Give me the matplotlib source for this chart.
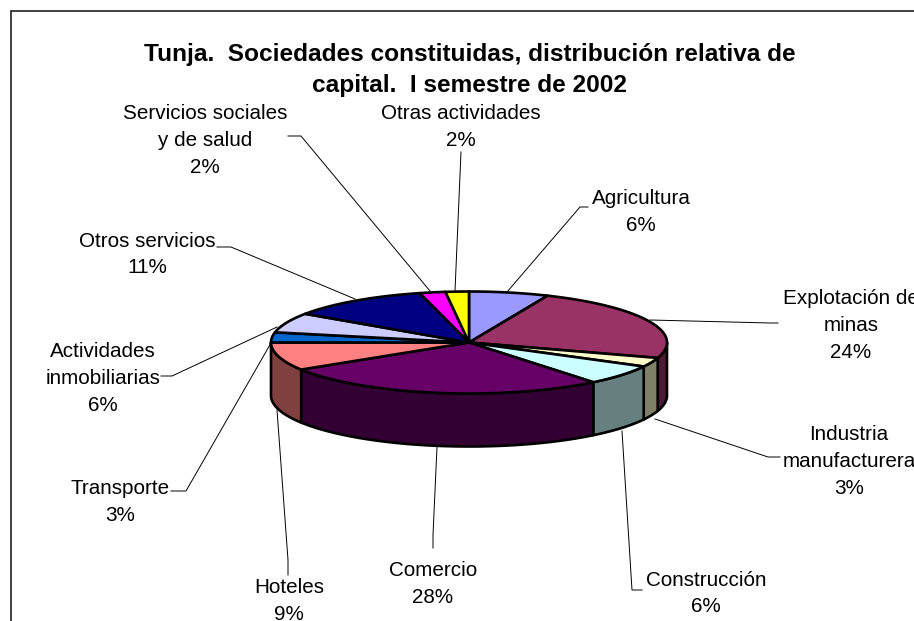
import numpy as np
import matplotlib
matplotlib.use('Agg')
import matplotlib.pyplot as plt
from matplotlib.patches import Polygon

plt.rcParams['font.family'] = ['Liberation Sans', 'DejaVu Sans']

# Chart data, slices go clockwise from 12 o'clock
categories = ['Agricultura', 'Explotación de\nminas', 'Industria\nmanufacturera',
              'Construcción', 'Comercio', 'Hoteles', 'Transporte',
              'Actividades\ninmobiliarias', 'Otros servicios',
              'Servicios sociales\ny de salud', 'Otras actividades']
percent_labels = ['6%', '24%', '3%', '6%', '28%', '9%', '3%', '6%', '11%', '2%', '2%']
values = [6.5, 23.4, 2.9, 6.4, 26.9, 8.9, 3.2, 6.3, 11.5, 2.1, 1.9]
colors = ['#9999FF', '#993366', '#FFFFCC', '#CCFFFF', '#660066', '#FF8080',
          '#0066CC', '#CCCCFF', '#000080', '#FF00FF', '#FFFF00']
title = 'Tunja.  Sociedades constituidas, distribución relativa de\ncapital.  I semestre de 2002'

# Layout, all in image pixels
CX, CY, RX, RY, DEPTH = 469, 342.5, 198, 51, 53
label_pos = [(641, 212), (851, 325.5), (849, 461.5), (706, 593.5), (433, 584), (289, 601),
             (120, 502), (103, 378.5), (147, 254.5), (205, 140.5), (461, 127)]
leaders = [
    [(507, 292), (580, 207), (588, 207)],
    [(650, 320), (770, 323), (778, 323)],
    [(655, 419), (768, 457), (780, 457)],
    [(622, 431), (632, 590), (642, 590)],
    [(437, 447), (433, 535), (433, 548)],
    [(277, 410), (288, 560), (288, 575)],
    [(271, 343), (186, 491), (171, 491)],
    [(277, 327), (172, 376), (161, 376)],
    [(355, 299), (231, 247), (217, 247)],
    [(430, 291), (301, 136), (288, 136)],
    [(455, 291), (461, 152)],
]


def ellipse_pts(a0, a1, dy=0):
    """Points on the rim between two clockwise angles from the top (degrees)."""
    t = np.radians(np.linspace(a0, a1, max(2, int(abs(a1 - a0) * 2))))
    return np.column_stack([CX + RX * np.sin(t), CY + dy - RY * np.cos(t)])


def darker(color):
    return tuple(c * 0.5 for c in matplotlib.colors.to_rgb(color))


fig = plt.figure(figsize=(9.14, 6.21), dpi=100, facecolor='white')
ax = fig.add_axes([0, 0, 1, 1])
ax.set_xlim(0, 914)
ax.set_ylim(621, 0)
ax.axis('off')

# Chart frame, cut off by the image on the right and at the bottom
ax.plot([10.5, 10.5, 914], [621, 11, 11], color='#202020', linewidth=1.2, solid_joinstyle='miter')

edges = np.concatenate([[0], np.cumsum(values)]) / sum(values) * 360

# Side wall, only the front half of the rim shows
for a0, a1, color in zip(edges[:-1], edges[1:], colors):
    lo, hi = max(a0, 90), min(a1, 270)
    if lo >= hi:
        continue
    top = ellipse_pts(lo, hi)
    bottom = ellipse_pts(hi, lo, DEPTH)
    ax.add_patch(Polygon(np.vstack([top, bottom]), closed=True, facecolor=darker(color),
                         edgecolor='black', linewidth=1.9, joinstyle='round', zorder=2))

# Top face
for a0, a1, color in zip(edges[:-1], edges[1:], colors):
    pts = np.vstack([[(CX, CY)], ellipse_pts(a0, a1)])
    ax.add_patch(Polygon(pts, closed=True, facecolor=color, edgecolor='black',
                         linewidth=1.9, joinstyle='round', zorder=3))

for pts in leaders:
    xs, ys = zip(*pts)
    ax.plot(xs, ys, color='black', linewidth=0.7, zorder=1)

for name, pct, (x, y) in zip(categories, percent_labels, label_pos):
    ax.text(x, y, f'{name}\n{pct}', ha='center', va='center', fontsize=14.9,
            linespacing=1.52, color='black', zorder=4)

ax.text(470, 70, title, ha='center', va='center', fontsize=17.6, fontweight='bold',
        linespacing=1.43, color='black', zorder=4)

fig.savefig('out.png', dpi=100, facecolor='white')
